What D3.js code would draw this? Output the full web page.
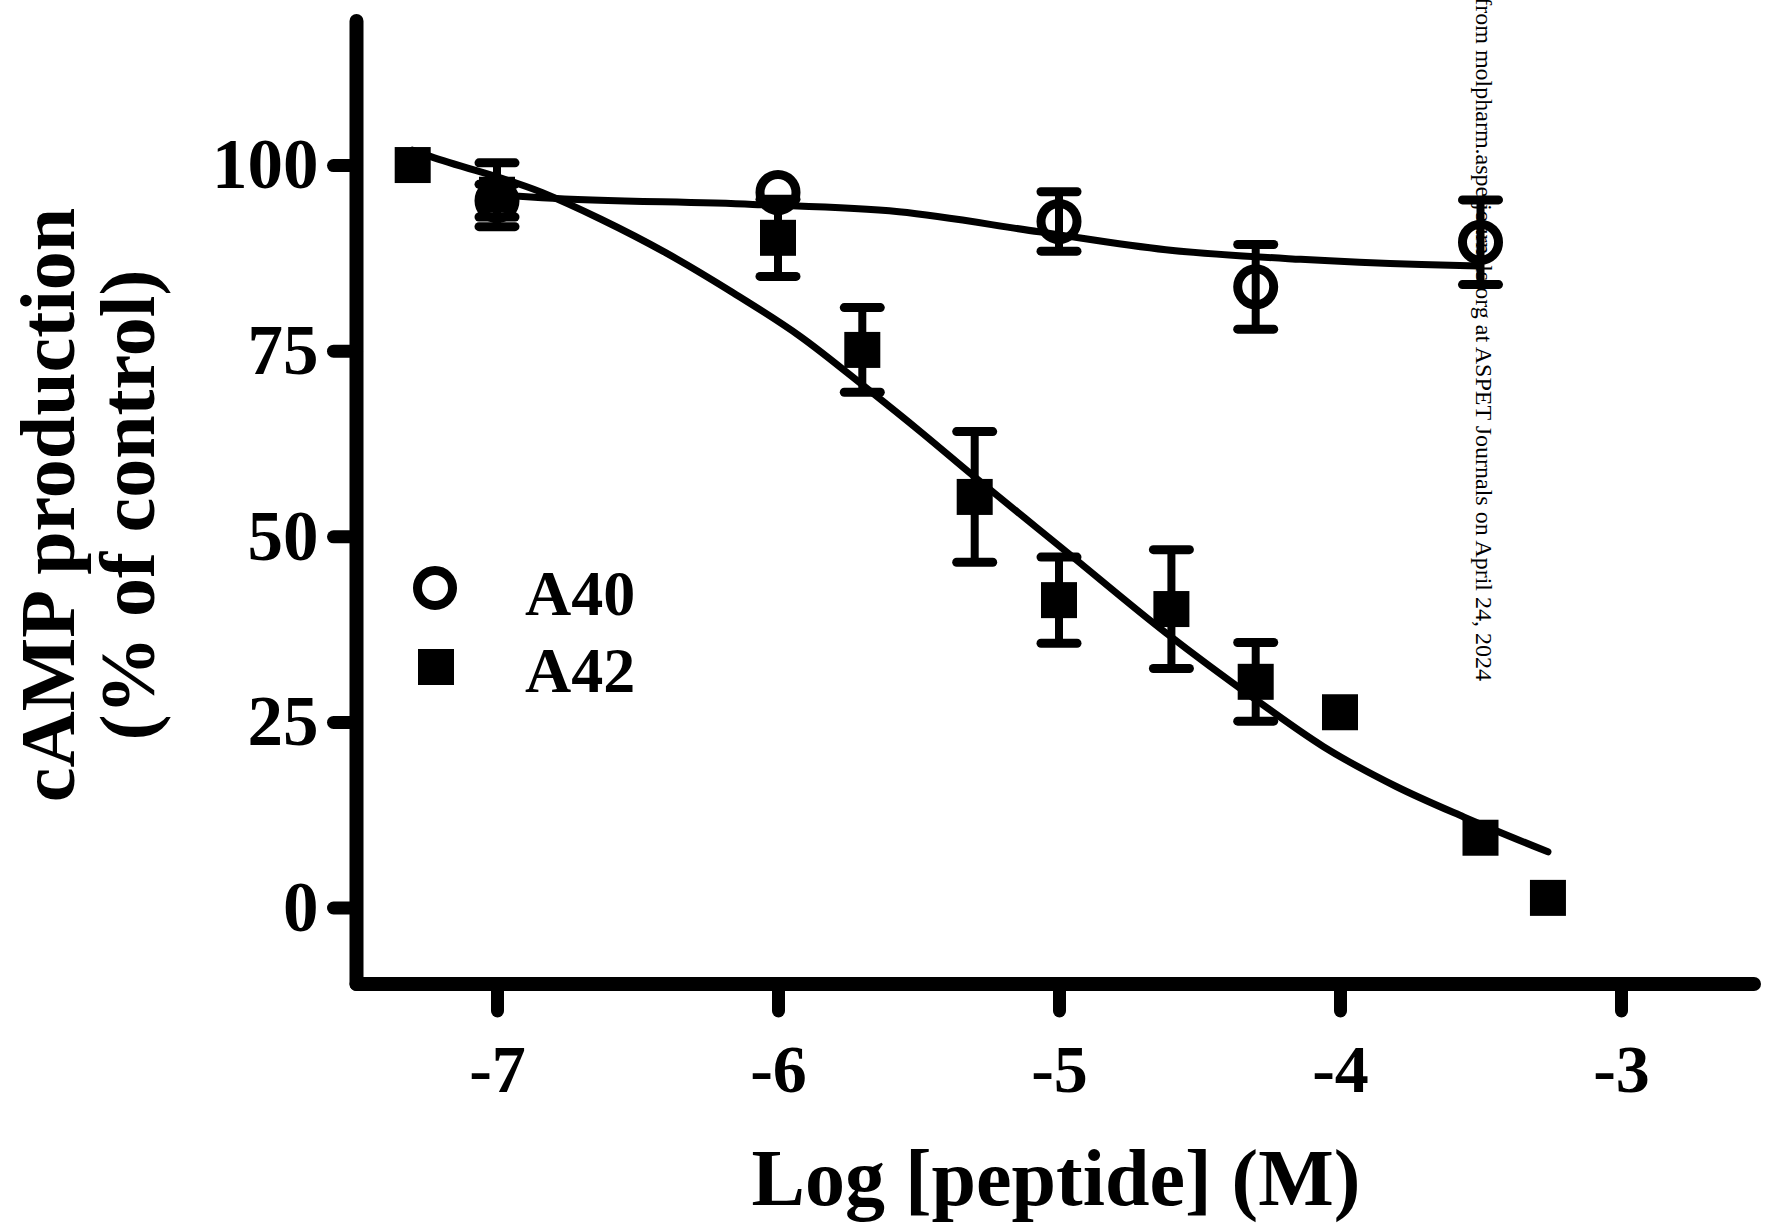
<!DOCTYPE html>
<html>
<head>
<meta charset="utf-8">
<script src="https://cdn.jsdelivr.net/npm/d3@7"></script>
<style>
  body { margin: 0; background: #fff; }
  text { font-family: "Liberation Serif", "Times New Roman", serif; }
</style>
</head>
<body>
<div id="chart"></div>
<script>

// A40 data (log M, % of control, SEM)
var a40Dose = [-7, -6, -5, -4.3, -3.5];
var a40Mean = [95.2, 96.3, 92.4, 83.6, 89.6];
var a40Sem = [2.2, null, 4.0, 5.7, 5.7];

// A42 data
var a42Dose = [-7.3, -7, -6, -5.7, -5.3, -5, -4.6, -4.3, -4, -3.5, -3.26];
var a42Mean = [100.0, 96.0, 90.2, 75.1, 55.3, 41.4, 40.2, 30.4, 26.3, 9.4, 1.3];
var a42Sem = [null, 4.3, 5.2, 5.7, 8.8, 5.8, 8.0, 5.3, null, null, null];

// fitted curves
var a40FitX = [-7.0, -6.84, -6.09, -5.57, -5.07, -4.62, -4.14, -3.71, -3.5];
var a40FitY = [96.0, 95.6, 94.7, 93.7, 91.0, 88.6, 87.3, 86.6, 86.4];
var a42FitX = [-7.3, -7.24, -6.84, -6.63, -6.40, -6.16, -5.92, -5.68, -5.49, -5.31, -4.97, -4.62, -4.30, -4.06, -3.80, -3.56, -3.26];
var a42FitY = [102.0, 101.2, 96.3, 92.7, 88.2, 82.8, 76.9, 69.8, 64.0, 58.3, 47.8, 37.0, 28.0, 21.7, 16.3, 12.2, 7.5];

var xTicks = [-7, -6, -5, -4, -3];
var yTicks = [0, 25, 50, 75, 100];
var seriesNames = ["A40", "A42"];

var svgWidth = 1770;
var svgHeight = 1225;

var svg = d3.select("#chart")
  .append("svg")
  .attr("width", svgWidth)
  .attr("height", svgHeight)
  .style("background", "#fff");

var xScale = d3.scaleLinear()
  .domain([-7.5, -2.5])
  .range([356.5, 1761.5]);

var yScale = d3.scaleLinear()
  .domain([-10.3, 119.4])
  .range([984, 21]);

var axisX = 356.5;
var axisY = 984;

// x axis
var bottomAxis = d3.axisBottom(xScale)
  .tickValues(xTicks)
  .tickSizeInner(27)
  .tickSizeOuter(0)
  .tickPadding(33)
  .tickFormat(d => String(d));

var xAxis = svg.append("g")
  .attr("transform", `translate(0, ${axisY})`)
  .call(bottomAxis);

// y axis
var leftAxis = d3.axisLeft(yScale)
  .tickValues(yTicks)
  .tickSizeInner(23)
  .tickSizeOuter(0)
  .tickPadding(15)
  .tickFormat(d => String(d));

var yAxis = svg.append("g")
  .attr("transform", `translate(${axisX}, 0)`)
  .call(leftAxis);

// heavy rounded axis style
[xAxis, yAxis].forEach(function(ax) {
  ax.select(".domain").remove();
  ax.selectAll(".tick line")
    .attr("stroke", "#000")
    .attr("stroke-width", 13)
    .attr("stroke-linecap", "round");
  ax.selectAll(".tick text")
    .attr("fill", "#000")
    .style("font-weight", "bold");
});
xAxis.selectAll(".tick text").style("font-size", "68px");
yAxis.selectAll(".tick text").style("font-size", "71px");

svg.append("line")
  .attr("x1", axisX)
  .attr("x2", 1754)
  .attr("y1", axisY)
  .attr("y2", axisY)
  .attr("stroke", "#000")
  .attr("stroke-width", 14)
  .attr("stroke-linecap", "round");

svg.append("line")
  .attr("x1", axisX)
  .attr("x2", axisX)
  .attr("y1", axisY)
  .attr("y2", yScale(119.4))
  .attr("stroke", "#000")
  .attr("stroke-width", 14)
  .attr("stroke-linecap", "round");

// axis titles
svg.append("text")
  .attr("x", 1056)
  .attr("y", 1205)
  .attr("text-anchor", "middle")
  .style("font-size", "80px")
  .style("font-weight", "bold")
  .text("Log [peptide] (M)");

var yTitle = svg.append("g")
  .attr("transform", "translate(0, 505) rotate(-90)");

yTitle.append("text")
  .attr("x", 0)
  .attr("y", 74)
  .attr("text-anchor", "middle")
  .style("font-size", "78px")
  .style("font-weight", "bold")
  .text("cAMP production");

yTitle.append("text")
  .attr("x", 0)
  .attr("y", 154)
  .attr("text-anchor", "middle")
  .style("font-size", "78px")
  .style("font-weight", "bold")
  .text("(% of control)");

// fitted curves
var line = d3.line()
  .x(d => xScale(d[0]))
  .y(d => yScale(d[1]))
  .curve(d3.curveMonotoneX);

var fits = [d3.zip(a40FitX, a40FitY), d3.zip(a42FitX, a42FitY)];

svg.selectAll(".fit")
  .data(fits)
  .enter()
  .append("path")
  .attr("class", "fit")
  .attr("d", line)
  .attr("fill", "none")
  .attr("stroke", "#000")
  .attr("stroke-width", 7)
  .attr("stroke-linecap", "round");

// error bars
function drawErrorBars(dose, mean, sem) {
  var rows = dose.map((d, i) => ({x: d, y: mean[i], e: sem[i]}))
    .filter(d => d.e !== null);

  var g = svg.append("g");
  g.selectAll(".stem")
    .data(rows)
    .enter()
    .append("line")
    .attr("x1", d => xScale(d.x))
    .attr("x2", d => xScale(d.x))
    .attr("y1", d => yScale(d.y - d.e))
    .attr("y2", d => yScale(d.y + d.e))
    .attr("stroke", "#000")
    .attr("stroke-width", 8);

  [-1, 1].forEach(function(s) {
    g.selectAll(".cap" + s)
      .data(rows)
      .enter()
      .append("line")
      .attr("x1", d => xScale(d.x) - 18)
      .attr("x2", d => xScale(d.x) + 18)
      .attr("y1", d => yScale(d.y + s * d.e))
      .attr("y2", d => yScale(d.y + s * d.e))
      .attr("stroke", "#000")
      .attr("stroke-width", 9)
      .attr("stroke-linecap", "round");
  });
}

drawErrorBars(a40Dose, a40Mean, a40Sem);
drawErrorBars(a42Dose, a42Mean, a42Sem);

// A40 open circles
svg.selectAll(".a40")
  .data(d3.zip(a40Dose, a40Mean))
  .enter()
  .append("circle")
  .attr("class", "a40")
  .attr("cx", d => xScale(d[0]))
  .attr("cy", d => yScale(d[1]))
  .attr("r", 18)
  .attr("fill", "none")
  .attr("stroke", "#000")
  .attr("stroke-width", 9);

// A42 filled squares
svg.selectAll(".a42")
  .data(d3.zip(a42Dose, a42Mean))
  .enter()
  .append("rect")
  .attr("class", "a42")
  .attr("x", d => xScale(d[0]) - 18)
  .attr("y", d => yScale(d[1]) - 18)
  .attr("width", 36)
  .attr("height", 36)
  .attr("fill", "#000");

// legend
var legend = svg.append("g");

legend.append("circle")
  .attr("cx", 435)
  .attr("cy", 588)
  .attr("r", 17.5)
  .attr("fill", "none")
  .attr("stroke", "#000")
  .attr("stroke-width", 9);

legend.append("rect")
  .attr("x", 418)
  .attr("y", 649)
  .attr("width", 36)
  .attr("height", 36)
  .attr("fill", "#000");

legend.selectAll(".label")
  .data(seriesNames)
  .enter()
  .append("text")
  .attr("x", 525)
  .attr("y", (d, i) => 615 + i * 77)
  .style("font-size", "64px")
  .style("font-weight", "bold")
  .text(d => d);

// download stamp along the right edge (cut at the top, as in the source)
svg.append("text")
  .attr("transform", "translate(1476, 681) rotate(90)")
  .attr("text-anchor", "end")
  .style("font-size", "24px")
  .text("Downloaded from molpharm.aspetjournals.org at ASPET Journals on April 24, 2024");

</script>
</body>
</html>
